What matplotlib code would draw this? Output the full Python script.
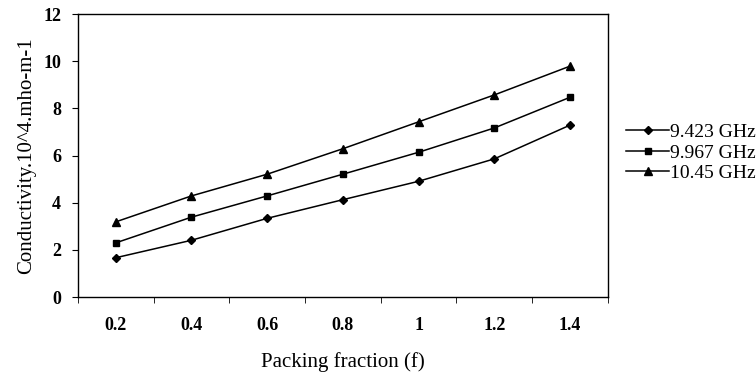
import matplotlib.pyplot as plt
import numpy as np

plt.rcParams["font.family"] = ["Liberation Serif", "DejaVu Serif"]

packing = ["0.2", "0.4", "0.6", "0.8", "1", "1.2", "1.4"]
f_9423 = [1.67, 2.41, 3.34, 4.13, 4.91, 5.86, 7.29]
f_9967 = [2.30, 3.39, 4.29, 5.21, 6.14, 7.17, 8.47]
f_1045 = [3.19, 4.29, 5.21, 6.29, 7.43, 8.57, 9.79]
labels = ["9.423 GHz", "9.967 GHz", "10.45 GHz"]

fig = plt.figure(figsize=(7.56, 3.79), dpi=100)
ax = fig.add_axes([0.103, 0.216, 0.701, 0.747])

x = np.arange(len(packing))
for values, marker, size, label in [
    (f_9423, "D", 4, labels[0]),
    (f_9967, "s", 5, labels[1]),
    (f_1045, "^", 6, labels[2]),
]:
    ax.plot(x, values, color="black", linewidth=1.1, marker=marker,
            markersize=size, label=label)

ax.set_xlim(-0.5, len(packing) - 0.5)
ax.set_ylim(0, 12)
ax.set_yticks(range(0, 13, 2))
ax.set_xticks(x)
ax.set_xticklabels(packing)
ax.set_xticks(np.arange(-0.5, len(packing), 1.0), minor=True)
ax.tick_params(axis="x", which="major", length=0, pad=14)
ax.tick_params(axis="x", which="minor", length=4, direction="out")
ax.tick_params(axis="y", length=4, direction="out", pad=8)
for lbl in ax.get_xticklabels() + ax.get_yticklabels():
    lbl.set_fontweight("bold")
    lbl.set_fontsize(13)

for spine in ax.spines.values():
    spine.set_linewidth(1.0)

ax.set_xlabel("Packing fraction (f)", fontsize=15, labelpad=13)
ax.set_ylabel("Conductivity.10^4.mho-m-1", fontsize=15, labelpad=5)

ax.legend(loc="center left", bbox_to_anchor=(1.035, 0.51), frameon=False,
          fontsize=14, handlelength=2.2, handletextpad=0.05, labelspacing=0.15,
          borderaxespad=0, borderpad=0)

fig.savefig("out.png", dpi=100)
